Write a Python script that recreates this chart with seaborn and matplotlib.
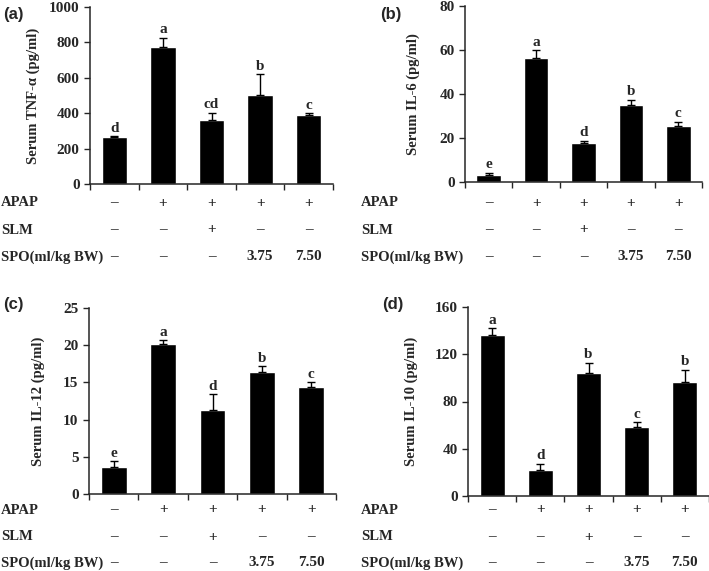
import matplotlib

matplotlib.use("Agg")

import matplotlib.pyplot as plt
import matplotlib.transforms as mtransforms
import numpy as np
import pandas as pd
import seaborn as sns

# treatment groups and the table under each panel
groups = ["G1", "G2", "G3", "G4", "G5"]
apap = ["–", "+", "+", "+", "+"]
slm = ["–", "–", "+", "–", "–"]
spo = ["–", "–", "–", "3.75", "7.50"]

tnf_mean = [263, 776, 362, 503, 389]
tnf_err = [7, 50, 40, 118, 12]
tnf_sig = ["d", "a", "cd", "b", "c"]

il6_mean = [3.4, 56.3, 17.6, 34.8, 25.4]
il6_err = [0.8, 3.6, 1.2, 2.6, 2.0]
il6_sig = ["e", "a", "d", "b", "c"]

il12_mean = [3.6, 20.2, 11.3, 16.4, 14.4]
il12_err = [0.8, 0.5, 2.1, 0.8, 0.6]
il12_sig = ["e", "a", "d", "b", "c"]

il10_mean = [136, 22, 104, 58.5, 96.5]
il10_err = [6, 5.5, 9, 4, 10.5]
il10_sig = ["a", "d", "b", "c", "b"]

SERIF = ["Liberation Serif", "DejaVu Serif"]
SANS = ["Liberation Sans", "DejaVu Sans"]

sns.set_style("ticks")
plt.rcParams["font.family"] = SERIF
plt.rcParams["font.weight"] = "bold"

W, H = 709, 571
fig = plt.figure(figsize=(W / 100, H / 100), dpi=100)


def px_box(left, top, right, bottom):
    return [left / W, 1 - bottom / H, (right - left) / W, (bottom - top) / H]


def panel(box, mean, err, sig, ymax, ystep, ylabel, label_x, letter, letter_pos, rows_y, row_label_x):
    ax = fig.add_axes(box)
    df = pd.DataFrame({"group": groups, "value": mean})
    sns.barplot(data=df, x="group", y="value", color="black", saturation=1,
                width=0.52, errorbar=None, ax=ax)
    x = np.arange(len(groups))
    ax.errorbar(x, mean, yerr=[np.zeros(len(err)), err], fmt="none",
                ecolor="black", elinewidth=1, capsize=3, capthick=1, zorder=3)
    for xi, m, e, s in zip(x, mean, err, sig):
        ax.annotate(s, (xi, m + e), xytext=(0, 1), textcoords="offset points",
                    ha="center", va="bottom", fontsize=11, fontweight="bold")

    ax.set_xlim(-0.5, len(groups) - 0.5)
    ax.set_ylim(0, ymax)
    ax.set_yticks(np.arange(0, ymax + ystep / 2, ystep))
    ax.set_xticks(np.arange(-0.5, len(groups), 1))
    ax.set_xticklabels([])
    ax.set_xlabel("")
    ax.set_ylabel(ylabel, fontsize=10.5, fontweight="bold")
    ax.yaxis.set_label_coords(label_x, 0.5)
    ax.tick_params(axis="both", direction="out", length=4, width=1, labelsize=11)
    for lab in ax.get_yticklabels():
        lab.set_fontweight("bold")
    sns.despine(ax=ax)
    for sp in ("left", "bottom"):
        ax.spines[sp].set_linewidth(1.1)

    fig.text(letter_pos[0] / W, 1 - letter_pos[1] / H, letter, family=SANS,
             fontsize=12, fontweight="bold", ha="left", va="center")

    trans = mtransforms.blended_transform_factory(ax.transData, fig.transFigure)
    for name, vals, ry in zip(["APAP", "SLM", "SPO(ml/kg BW)"], [apap, slm, spo], rows_y):
        fig.text(row_label_x / W, 1 - ry / H, name, fontsize=10.5, fontweight="bold",
                 ha="left", va="center")
        for xi, v in zip(x, vals):
            ax.text(xi, 1 - ry / H, v, transform=trans, fontsize=11,
                    fontweight="bold", ha="center", va="center")
    return ax


panel(px_box(90, 7, 333, 184), tnf_mean, tnf_err, tnf_sig, 1000, 200,
      "Serum TNF-α (pg/ml)", -0.206, "(a)", (3, 14), (203, 230, 257), 1)
panel(px_box(465, 6, 702, 182), il6_mean, il6_err, il6_sig, 80, 20,
      "Serum IL-6 (pg/ml)", -0.19, "(b)", (380, 14), (203, 230, 257), 361)
panel(px_box(89, 308, 336, 494), il12_mean, il12_err, il12_sig, 25, 5,
      "Serum IL-12 (pg/ml)", -0.178, "(c)", (3, 305), (510, 537, 563), 1)
panel(px_box(468, 307, 709, 496), il10_mean, il10_err, il10_sig, 160, 40,
      "Serum IL-10 (pg/ml)", -0.207, "(d)", (382, 305), (510, 537, 563), 361)

fig.savefig("out.png", dpi=100, facecolor="white")
